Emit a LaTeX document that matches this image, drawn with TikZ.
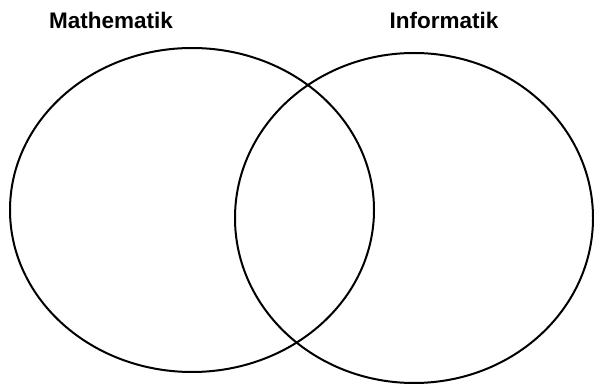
\documentclass[tikz,border=0pt]{standalone}
\usepackage{fontspec}
\setsansfont{Liberation Sans}
\usetikzlibrary{positioning}

\begin{document}
\begin{tikzpicture}[x=1pt,y=-1pt,
  lbl/.style={font=\sffamily\bfseries\fontsize{22.5}{26}\selectfont,inner sep=0pt,anchor=base},
  setring/.style={draw=black,line width=2pt}]
\useasboundingbox (0,0) rectangle (594,387);
% the two sets
\draw[setring] (192,210) ellipse [x radius=182, y radius=162];
\draw[setring] (414,218) ellipse [x radius=179, y radius=165];
% labels
\node[lbl] (mathe) at (111,29) {Mathematik};
\node[lbl] (info) at (444,29) {Informatik};
\end{tikzpicture}
\end{document}
